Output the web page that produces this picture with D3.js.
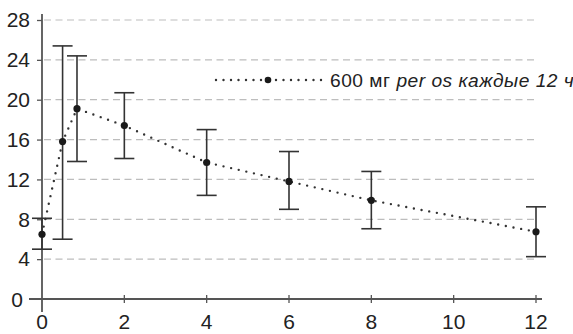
<!DOCTYPE html>
<html><head><meta charset="utf-8">
<script src="https://cdn.jsdelivr.net/npm/d3@7"></script>
<style>body{margin:0;background:#fff}svg{display:block}</style>
</head><body>
<svg id="c" width="573" height="334"></svg>
<script>
const times = [0, 0.5, 0.85, 2, 4, 6, 8, 12];
const means = [6.5, 15.8, 19.1, 17.4, 13.7, 11.8, 9.9, 6.75];
const upper = [8.1, 25.4, 24.4, 20.7, 17.0, 14.8, 12.8, 9.25];
const lower = [5.0, 6.0, 13.8, 14.1, 10.4, 9.0, 7.05, 4.25];
const xTicks = [0, 2, 4, 6, 8, 10, 12];
const yTicks = [0, 4, 8, 12, 16, 20, 24, 28];
const legendLabel = "600 мг ";
const legendItalic = "per os каждые 12 ч";

const svg = d3.select("#c");
const x = d3.scaleLinear().domain([0, 12]).range([42, 536]);
const y = d3.scaleLinear().domain([0, 28]).range([299, 20]);
const font = "'Liberation Sans Narrow', 'Arial Narrow', sans-serif";

// grid
svg.append("g").selectAll("line").data(yTicks.filter(d => d > 0)).join("line")
  .attr("x1", 44).attr("x2", 538).attr("y1", d => y(d)).attr("y2", d => y(d))
  .attr("stroke", "#bdbdbd").attr("stroke-width", 1.2).attr("stroke-dasharray", "7,4.5");

// y axis
const ya = svg.append("g").attr("transform", "translate(42,0)")
  .call(d3.axisLeft(y).tickValues(yTicks.filter(d => d > 0)).tickSize(5).tickPadding(7).tickSizeOuter(0));
ya.select(".domain").remove();
ya.selectAll("line").attr("stroke", "#555").attr("stroke-width", 1.3);
ya.selectAll("text").attr("font-family", font).attr("font-size", 21).attr("fill", "#222");
svg.append("line").attr("x1", 42).attr("x2", 42).attr("y1", 14).attr("y2", 312)
  .attr("stroke", "#555").attr("stroke-width", 1.8);
svg.append("text").attr("x", 23).attr("y", y(0)).attr("dy", "0.36em").attr("text-anchor", "end")
  .attr("font-family", font).attr("font-size", 21).attr("fill", "#222").text(yTicks[0]);

// x axis
svg.append("line").attr("x1", 29).attr("x2", 542).attr("y1", y(0)).attr("y2", y(0))
  .attr("stroke", "#555").attr("stroke-width", 1.8);
const xt = svg.append("g");
xt.selectAll("line").data(xTicks.filter(d => d > 0)).join("line")
  .attr("x1", d => x(d)).attr("x2", d => x(d)).attr("y1", y(0) - 4).attr("y2", y(0) + 4)
  .attr("stroke", "#555").attr("stroke-width", 1.3);
xt.selectAll("text").data(xTicks).join("text")
  .attr("x", d => x(d)).attr("y", 329).attr("text-anchor", "middle")
  .attr("font-family", font).attr("font-size", 21).attr("fill", "#222").text(d => d);

// dotted line
const pts = times.map((t, i) => [t, means[i]]);
svg.append("path").datum(pts)
  .attr("d", d3.line().x(d => x(d[0])).y(d => y(d[1])))
  .attr("fill", "none").attr("stroke", "#333").attr("stroke-width", 2.4)
  .attr("stroke-linecap", "round").attr("stroke-dasharray", "0,7.8");

// error bars
const eb = svg.append("g").attr("stroke", "#333").attr("stroke-width", 1.6);
times.forEach((t, i) => {
  eb.append("line").attr("x1", x(t)).attr("x2", x(t)).attr("y1", y(upper[i])).attr("y2", y(lower[i]));
  [upper[i], lower[i]].forEach(v => eb.append("line")
    .attr("x1", x(t) - 10).attr("x2", x(t) + 10).attr("y1", y(v)).attr("y2", y(v)));
});
svg.append("g").selectAll("circle").data(pts).join("circle")
  .attr("cx", d => x(d[0])).attr("cy", d => y(d[1])).attr("r", 3.6).attr("fill", "#1a1a1a");

// legend
const lg = svg.append("g");
lg.append("line").attr("x1", 216).attr("x2", 324).attr("y1", 80).attr("y2", 80)
  .attr("stroke", "#333").attr("stroke-width", 2.4).attr("stroke-linecap", "round")
  .attr("stroke-dasharray", "0,7.5");
lg.append("circle").attr("cx", 268).attr("cy", 80).attr("r", 3.3).attr("fill", "#1a1a1a");
const lt = lg.append("text").attr("x", 330).attr("y", 86.5).attr("font-family", "'Liberation Sans', Arial, sans-serif")
  .attr("font-size", 19.2).attr("letter-spacing", 0.5).attr("fill", "#222");
lt.append("tspan").text(legendLabel);
lt.append("tspan").attr("font-style", "italic").text(legendItalic);
</script>
</body></html>
